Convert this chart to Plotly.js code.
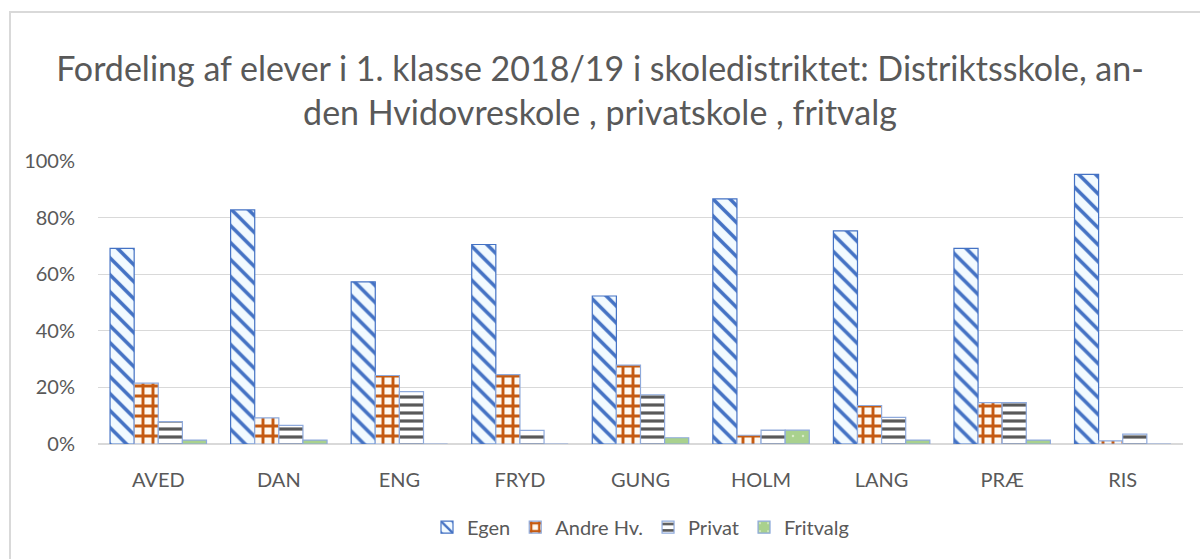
<!DOCTYPE html>
<html>
<head>
<meta charset="utf-8">
<script src="https://cdn.plot.ly/plotly-3.0.1.min.js"></script>
<style>
html,body{margin:0;padding:0;background:#fff;overflow:hidden;}
#wrap{position:relative;width:1200px;height:559px;overflow:hidden;}
#frame{position:absolute;left:9px;top:11px;width:1300px;height:700px;border-left:2px solid #d9d9d9;border-top:2px solid #d9d9d9;pointer-events:none;}
</style>
</head>
<body>
<div id="wrap">
<div id="chart"></div>
<div id="frame"></div>
</div>
<script>
const categories = ["AVED", "DAN", "ENG", "FRYD", "GUNG", "HOLM", "LANG", "PRÆ", "RIS"];
const egen     = [0.691, 0.827, 0.573, 0.705, 0.523, 0.866, 0.753, 0.691, 0.953];
const andreHv  = [0.215, 0.092, 0.242, 0.245, 0.279, 0.031, 0.136, 0.146, 0.011];
const privat   = [0.079, 0.066, 0.185, 0.048, 0.174, 0.049, 0.094, 0.146, 0.035];
const fritvalg = [0.014, 0.014, 0.000, 0.000, 0.022, 0.049, 0.014, 0.014, 0.000];
const seriesNames = ["Egen", "Andre Hv.", "Privat", "Fritvalg"];

const FONT = "Lato, 'Open Sans', sans-serif";

const traces = [
  {
    name: seriesNames[0], x: categories, y: egen, type: "bar",
    marker: {color: "#ffffff", line: {color: "#4472c4", width: 1.2},
      pattern: {shape: "\\", fgcolor: "#4472c4", bgcolor: "#f2faff", size: 12, solidity: 0.3, fillmode: "replace"}}
  },
  {
    name: seriesNames[1], x: categories, y: andreHv, type: "bar",
    marker: {color: "#ffffff", line: {color: "#8faadc", width: 1.2},
      pattern: {shape: "+", fgcolor: "#c55a11", bgcolor: "#fffaf2", size: 10, solidity: 0.5, fillmode: "replace"}}
  },
  {
    name: seriesNames[2], x: categories, y: privat, type: "bar",
    marker: {color: "#ffffff", line: {color: "#8faadc", width: 1.2},
      pattern: {shape: "-", fgcolor: "#595959", bgcolor: "#ffffff", size: 8, solidity: 0.4, fillmode: "replace"}}
  },
  {
    name: seriesNames[3], x: categories, y: fritvalg, type: "bar",
    marker: {color: "#a9d18e", line: {color: "#8faadc", width: 1.2},
      pattern: {shape: ".", fgcolor: "#d9ecc9", bgcolor: "#a9d18e", size: 10, solidity: 0.05, fillmode: "replace"}}
  }
];

const layout = {
  width: 1200, height: 559,
  paper_bgcolor: "#ffffff", plot_bgcolor: "#ffffff",
  font: {family: FONT, color: "#595959", size: 20},
  title: {
    text: "Fordeling af elever i 1. klasse 2018/19 i skoledistriktet: Distriktsskole, an-<br>den Hvidovreskole , privatskole , fritvalg",
    font: {family: FONT, size: 34, color: "#595959"},
    x: 0.5, xanchor: "center", xref: "container",
    y: 1 - 81/559, yanchor: "middle", yref: "container"
  },
  margin: {l: 98, r: 17, t: 161, b: 109},
  barmode: "group", bargap: 0.2, bargroupgap: 0,
  xaxis: {
    type: "category", showgrid: false, showline: false, zeroline: false,
    ticks: "", ticklabelstandoff: 22,
    tickfont: {size: 20, color: "#595959", family: FONT}
  },
  yaxis: {
    range: [0, 1.0], dtick: 0.2, tickformat: ".0%",
    showgrid: true, gridcolor: "#d9d9d9", gridwidth: 1.3,
    zeroline: true, zerolinecolor: "#d9d9d9", zerolinewidth: 2,
    showline: false, ticks: "", ticklabelstandoff: 22,
    tickfont: {size: 20, color: "#595959", family: FONT}
  },
  legend: {
    orientation: "h", x: 0.5, xanchor: "center", y: -0.294, yanchor: "middle",
    font: {size: 20, color: "#595959", family: FONT}, traceorder: "normal"
  },
  showlegend: true
};

Plotly.newPlot("chart", traces, layout, {displayModeBar: false, staticPlot: true});
</script>
</body>
</html>
